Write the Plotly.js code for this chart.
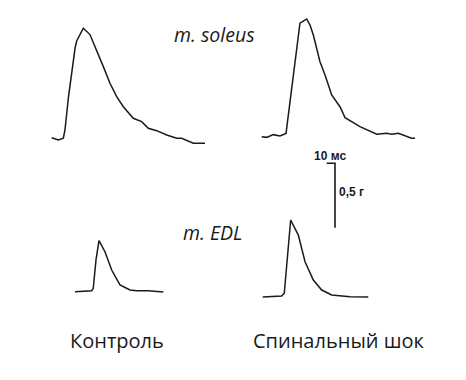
<!DOCTYPE html>
<html>
<head>
<meta charset="utf-8">
<script src="https://cdn.plot.ly/plotly-3.0.1.min.js"></script>
<style>html,body{margin:0;padding:0;background:#fff;}#chart{width:466px;height:380px;}</style>
</head>
<body>
<div id="chart"></div>
<script>
// Twitch recordings: time since trace start (ms), force above baseline (g)
const soleusControlT = [0, 8.0, 14.0, 16.0, 20.0, 24.1, 28.1, 30.1, 38.1, 46.1, 54.2, 62.2, 70.2, 78.3, 86.3, 98.3, 108.4, 116.4, 126.5, 138.6, 150.6, 156.6, 170.6, 184.7];
const soleusControlF = [0.002, -0.016, -0.002, 0.062, 0.308, 0.515, 0.696, 0.753, 0.852, 0.803, 0.683, 0.554, 0.425, 0.321, 0.243, 0.153, 0.127, 0.075, 0.057, 0.023, -0.002, -0.002, -0.041, -0.041];

const soleusShockT = [0, 6.0, 14.0, 22.0, 29.3, 38.1, 46.1, 54.2, 58.2, 62.2, 70.2, 76.3, 84.3, 94.3, 100.4, 118.4, 138.6, 150.6, 156.6, 164.6, 180.7, 184.7];
const soleusShockF = [0.010, 0.005, 0.026, 0.016, 0.036, 0.476, 0.891, 0.924, 0.877, 0.800, 0.592, 0.489, 0.334, 0.243, 0.158, 0.088, 0.029, 0.036, 0.029, 0.036, -0.002, -0.002];

const edlControlT = [0, 20.1, 22.0, 25.3, 28.9, 36.1, 44.2, 54.2, 66.3, 74.3, 88.3, 106.4];
const edlControlF = [-0.005, 0.002, 0.021, 0.241, 0.391, 0.305, 0.163, 0.047, 0.008, 0.002, 0.002, -0.008];

const edlShockT = [0, 22.9, 26.0, 29.6, 33.7, 42.9, 51.0, 61.0, 71.1, 83.1, 105.2, 127.2];
const edlShockF = [0, 0.008, 0.029, 0.313, 0.598, 0.481, 0.274, 0.132, 0.054, 0.016, 0.002, 0];

// Scale bar values
const scaleTimeMs = 10;
const scaleForceG = 0.5;
const scaleTimeLabel = '10 мс';
const scaleForceLabel = '0,5 г';

const muscleLabels = ['m. soleus', 'm. EDL'];
const conditionLabels = ['Контроль', 'Спинальный шок'];

// ---- layout geometry (pixels -> axis units) ----
const W = 466, H = 380;
const pxPerMs = 0.83, pxPerG = 128.8;
const xr = [0, W / pxPerMs];
const yr = [0, H / pxPerG];
const tx = px => px / pxPerMs;
const ty = py => (H - py) / pxPerG;

function placed(tArr, fArr, ox, oy) {
  return {
    x: tArr.map(t => t + tx(ox)),
    y: fArr.map(f => f + ty(oy)),
    type: 'scatter', mode: 'lines',
    line: {color: '#1a1a1a', width: 1.5},
    hoverinfo: 'skip', showlegend: false
  };
}

const traces = [
  placed(soleusControlT, soleusControlF, 51.7, 138),
  placed(soleusShockT, soleusShockF, 261.7, 138),
  placed(edlControlT, edlControlF, 75, 291),
  placed(edlShockT, edlShockF, 262.7, 297)
];

// scale bar: corner at (335,163.3)
const cx = tx(335), cy = ty(163.3);
traces.push({
  x: [cx - scaleTimeMs, cx, cx],
  y: [cy, cy, cy - scaleForceG],
  type: 'scatter', mode: 'lines',
  line: {color: '#1a1a1a', width: 1.6},
  hoverinfo: 'skip', showlegend: false
});

const ax = {visible: false, fixedrange: true};
const ann = (text, px, py, font) => ({
  text: text, xref: 'paper', yref: 'paper',
  x: px / W, y: 1 - py / H, xanchor: 'center', yanchor: 'middle',
  showarrow: false, font: font
});
const italic = {family: 'Open Sans', size: 19.5, color: '#1a1a1a', style: 'italic'};
const plain = {family: 'Open Sans', size: 20, color: '#1a1a1a'};
const bold = {family: 'Liberation Sans, Arial', size: 12, color: '#1a1a1a', weight: 'bold'};

const layout = {
  width: W, height: H,
  margin: {l: 0, r: 0, t: 0, b: 0},
  paper_bgcolor: '#ffffff', plot_bgcolor: '#ffffff',
  xaxis: Object.assign({}, ax, {range: xr}),
  yaxis: Object.assign({}, ax, {range: yr}),
  showlegend: false,
  annotations: [
    ann(muscleLabels[0], 214.5, 35, italic),
    ann(muscleLabels[1], 212.5, 232, italic),
    ann(conditionLabels[0], 116.7, 340, plain),
    ann(conditionLabels[1], 338, 340, plain),
    ann(scaleTimeLabel, 329.5, 155.5, bold),
    ann(scaleForceLabel, 351.3, 192, bold)
  ]
};

Plotly.newPlot('chart', traces, layout, {staticPlot: true, displayModeBar: false});
</script>
</body>
</html>
